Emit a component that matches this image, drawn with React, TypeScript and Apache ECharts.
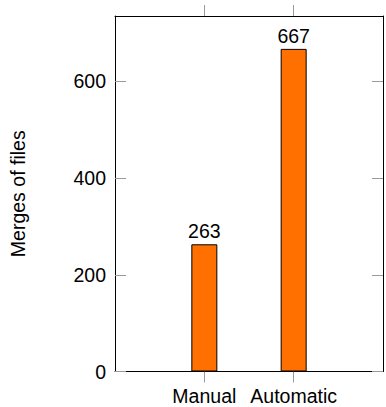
import React, { useEffect, useRef } from "react";
import * as echarts from "echarts";

const categories: string[] = ["Manual", "Automatic"];
const mergeValues: number[] = [263, 667];
const yTicks: number[] = [0, 200, 400, 600];
const yAxisTitle = "Merges of files";

const FONT = "'Liberation Sans', Arial, Helvetica, sans-serif";
const FS = 19.5;
const TICK_COLOR = "#9a9a9a";

export default function App() {
  const ref = useRef<HTMLDivElement>(null);
  useEffect(() => {
    if (!ref.current) return;
    const chart = echarts.init(ref.current, undefined, { renderer: "svg" });
    const idx = categories.map((_, i) => i);
    chart.setOption({
      animation: false,
      backgroundColor: "#ffffff",
      grid: { left: 115, right: 3, top: 16, bottom: 35.5, containLabel: false },
      xAxis: [
        {
          type: "value",
          position: "bottom",
          min: -1,
          max: 2,
          interval: 1,
          axisLine: { show: true, onZero: false, lineStyle: { color: "#000", width: 1 } },
          axisTick: {
            show: true,
            inside: false,
            length: 11,
            customValues: idx,
            lineStyle: { color: TICK_COLOR, width: 1 },
          },
          axisLabel: {
            show: true,
            customValues: idx,
            formatter: (v: number) => categories[Math.round(v)] ?? "",
            color: "#000",
            fontFamily: FONT,
            fontSize: FS,
            margin: 14,
          },
          splitLine: { show: false },
        },
        {
          type: "value",
          position: "top",
          min: -1,
          max: 2,
          interval: 1,
          axisLine: { show: true, onZero: false, lineStyle: { color: "#000", width: 1 } },
          axisTick: {
            show: true,
            inside: false,
            length: 11,
            customValues: idx,
            lineStyle: { color: TICK_COLOR, width: 1 },
          },
          axisLabel: { show: false },
          splitLine: { show: false },
        },
      ],
      yAxis: [
        {
          type: "value",
          position: "left",
          min: 0,
          max: 735,
          interval: 200,
          name: yAxisTitle,
          nameLocation: "middle",
          nameRotate: 90,
          nameGap: 87,
          nameTextStyle: { color: "#000", fontFamily: FONT, fontSize: FS },
          axisLine: { show: true, onZero: false, lineStyle: { color: "#000", width: 1 } },
          axisTick: {
            show: true,
            inside: true,
            length: 11,
            customValues: yTicks,
            lineStyle: { color: TICK_COLOR, width: 1 },
          },
          axisLabel: {
            show: true,
            customValues: yTicks,
            color: "#000",
            fontFamily: FONT,
            fontSize: FS,
            margin: 9,
          },
          splitLine: { show: false },
        },
        {
          type: "value",
          position: "right",
          min: 0,
          max: 735,
          interval: 200,
          axisLine: { show: true, onZero: false, lineStyle: { color: "#000", width: 1 } },
          axisTick: {
            show: true,
            inside: true,
            length: 11,
            customValues: yTicks,
            lineStyle: { color: TICK_COLOR, width: 1 },
          },
          axisLabel: { show: false },
          splitLine: { show: false },
        },
      ],
      series: [
        {
          type: "bar",
          xAxisIndex: 0,
          yAxisIndex: 0,
          barWidth: 26,
          data: mergeValues.map((v, i) => [i, v]),
          itemStyle: { color: "#ff7000", borderColor: "#000", borderWidth: 1 },
          label: {
            show: true,
            position: "top",
            distance: 3,
            formatter: (p: any) => String(p.value[1]),
            color: "#000",
            fontFamily: FONT,
            fontSize: FS,
          },
        },
      ],
    });
    return () => chart.dispose();
  }, []);
  return (
    <div
      ref={ref}
      style={{ position: "fixed", left: 0, top: 0, width: 386, height: 407, background: "#fff" }}
    />
  );
}
